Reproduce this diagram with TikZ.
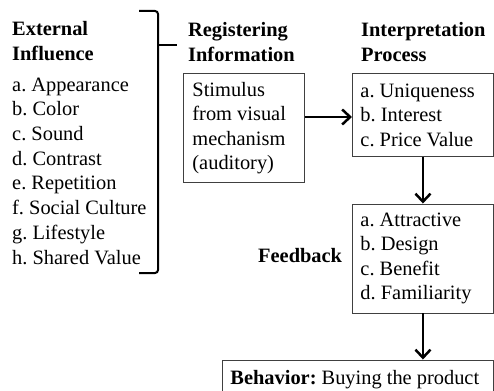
\documentclass[tikz,border=0pt]{standalone}
\usepackage{fontspec}
\setmainfont{Liberation Serif}
\usetikzlibrary{arrows.meta}
\frenchspacing
\begin{document}
\begin{tikzpicture}[x=1pt,y=-1pt,
  txt/.style={inner sep=0pt, align=flush left, font=\fontsize{20.4}{24.7}\selectfont},
  headtxt/.style={inner sep=0pt, align=flush left, font=\fontsize{20.4}{25}\selectfont\bfseries},
  box/.style={draw=black!75, line width=0.9pt, anchor=north west, align=flush left,
    inner ysep=0pt, font=\fontsize{20.4}{24.5}\selectfont},
  arr/.style={line width=2.5pt, -{Straight Barb[length=8pt,width=15pt]}},
  bracestroke/.style={line width=2pt, black}]
\useasboundingbox (0,0) rectangle (494,390);
% headings
\node[headtxt, anchor=north west] (exth) at (12,21.5) {External\\Influence};
\node[headtxt, anchor=north west] (regh) at (188,22) {Registering\\Information};
\node[headtxt, anchor=north west] (interph) at (361,22) {Interpretation\\Process};
% external list
\node[txt, anchor=north west] (extlist) at (12,77.5) {a. Appearance\\b. Color\\c. Sound\\d. Contrast\\e. Repetition\\f. Social Culture\\g. Lifestyle\\h. Shared Value};
% brace
\draw[bracestroke, rounded corners=3pt] (139,11) -| (158,150) |- (139,273);
\draw[bracestroke] (158,45.5) -- (177,45.5);
% boxes
\node[box, inner xsep=9pt, text width=103pt, minimum width=121pt, minimum height=109pt] (stim) at (183,73)
  {Stimulus\\from visual\\mechanism\\(auditory)};
\node[box, inner xsep=8pt, text width=125pt, minimum width=141pt, minimum height=83pt] (interp) at (352,73)
  {a. Uniqueness\\b. Interest\\c. Price Value};
\node[box, inner xsep=8pt, text width=125pt, minimum width=141pt, minimum height=109pt] (feedback) at (352,203.5)
  {a. Attractive\\b. Design\\c. Benefit\\d. Familiarity};
\node[headtxt, anchor=base west] (fblabel) at (258,262) {Feedback};
\node[box, inner xsep=8pt, text width=255pt, minimum width=271pt, minimum height=40pt] (behavior) at (222,359.5)
  {\textbf{Behavior:} Buying the product};
% arrows
\coordinate (ay) at (0,117);
\draw[arr] (stim.east |- ay) -- (interp.west |- ay);
\draw[arr] (interp.south) -- (feedback.north);
\draw[arr] (feedback.south) -- (feedback.south |- behavior.north);
\end{tikzpicture}
\end{document}
